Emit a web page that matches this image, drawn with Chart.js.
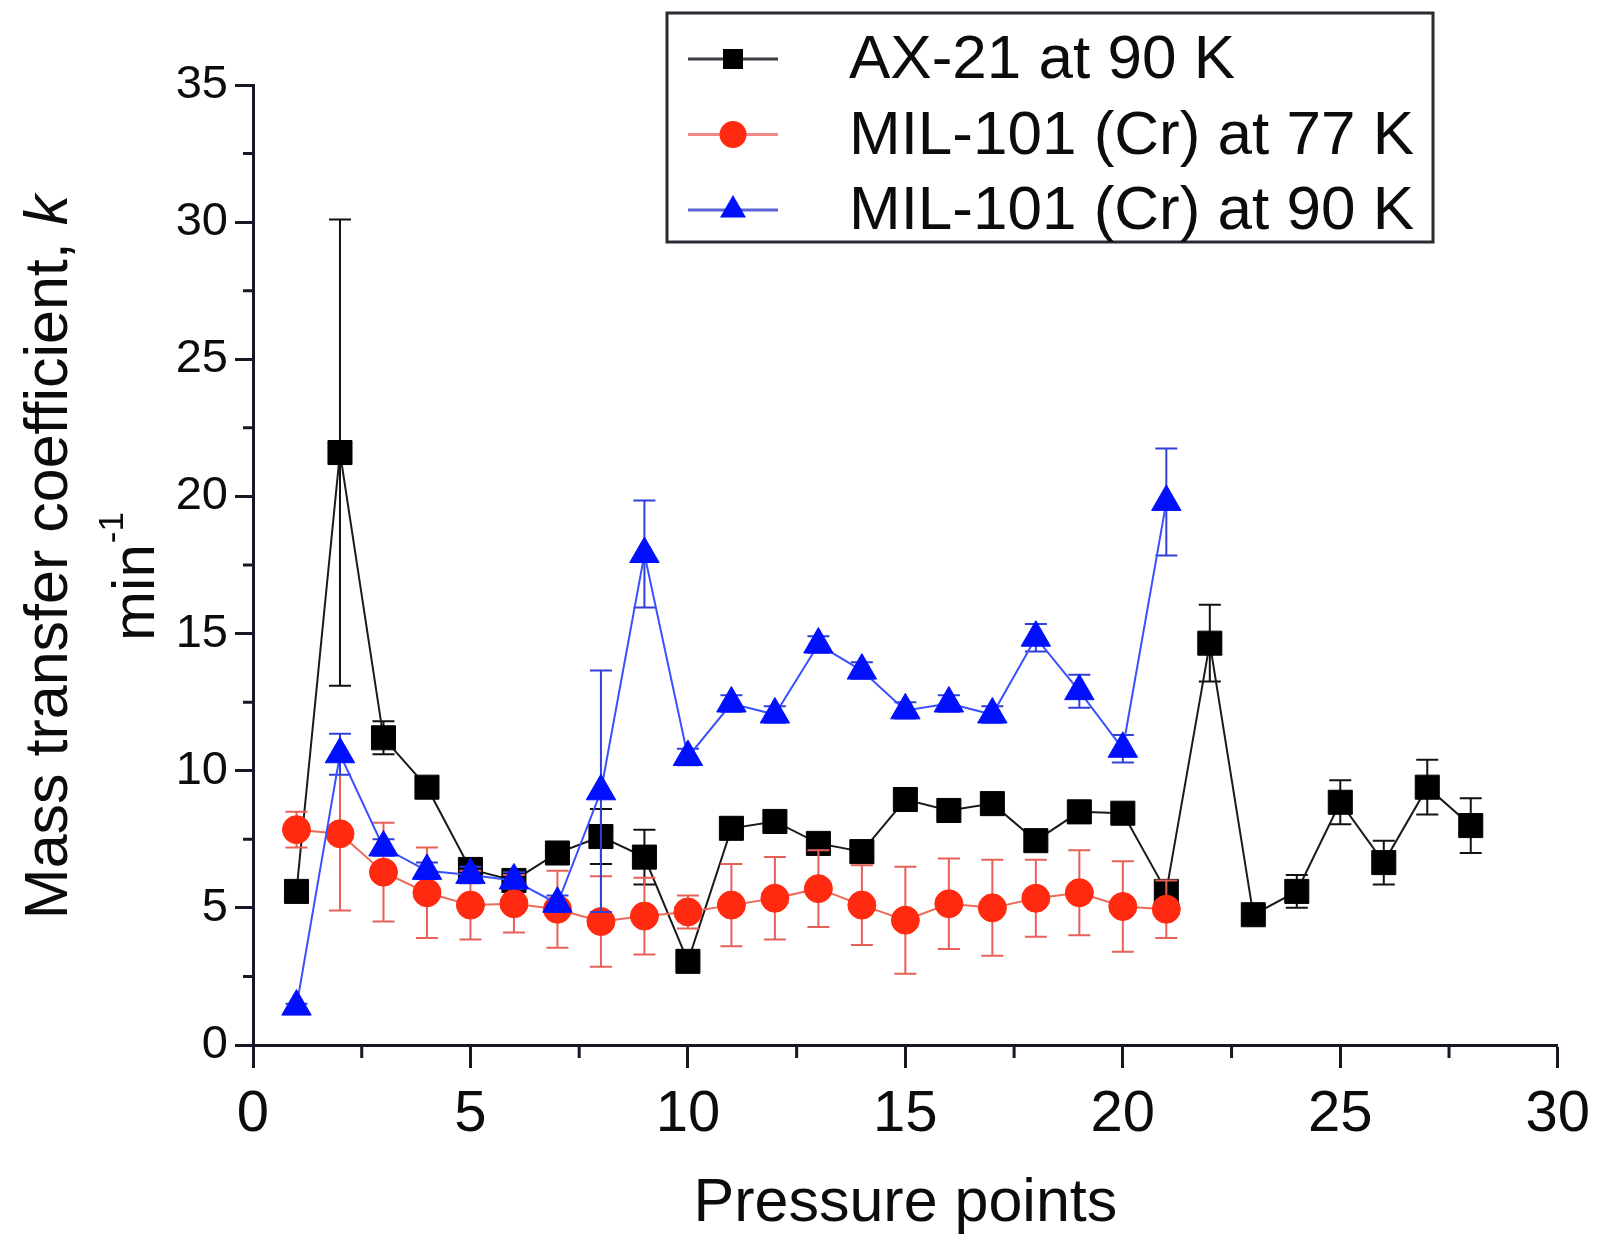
<!DOCTYPE html>
<html>
<head>
<meta charset="utf-8">
<title>Mass transfer coefficient</title>
<script src="https://cdn.jsdelivr.net/npm/chart.js@4.4.1/dist/chart.umd.min.js"></script>
<style>
  html, body { margin: 0; padding: 0; background: #fff; }
  canvas { display: block; }
</style>
</head>
<body>
<canvas id="myChart" width="1602" height="1243"></canvas>
<script>
// pressure point index for each sample
const ax21Points = [1, 2, 3, 4, 5, 6, 7, 8, 9, 10, 11, 12, 13, 14, 15, 16, 17, 18, 19, 20, 21, 22, 23, 24, 25, 26, 27, 28];
const milPoints = [1, 2, 3, 4, 5, 6, 7, 8, 9, 10, 11, 12, 13, 14, 15, 16, 17, 18, 19, 20, 21];

// k (min^-1) and its error
const ax21 = [5.6, 21.6, 11.2, 9.4, 6.4, 6.0, 7.0, 7.6, 6.85, 3.05, 7.9, 8.15, 7.35, 7.05, 8.95, 8.55, 8.8, 7.45, 8.5, 8.45, 5.6, 14.65, 4.75, 5.6, 8.85, 6.65, 9.4, 8.0];
const ax21Err = [0.2, 8.5, 0.6, 0.2, 0.3, 0.3, 0.3, 1.0, 1.0, 0, 0.2, 0.2, 0.2, 0.2, 0.2, 0.2, 0.2, 0.2, 0.2, 0.2, 0.3, 1.4, 0, 0.6, 0.8, 0.8, 1.0, 1.0];

const mil77 = [7.85, 7.7, 6.3, 5.55, 5.1, 5.15, 4.95, 4.5, 4.7, 4.85, 5.1, 5.35, 5.7, 5.1, 4.55, 5.15, 5.0, 5.35, 5.55, 5.05, 4.95];
const mil77Err = [0.65, 2.8, 1.8, 1.65, 1.25, 1.05, 1.4, 1.65, 1.4, 0.6, 1.5, 1.5, 1.4, 1.45, 1.95, 1.65, 1.75, 1.4, 1.55, 1.65, 1.05];

const mil90 = [1.4, 10.6, 7.2, 6.35, 6.2, 6.0, 5.15, 9.25, 17.9, 10.5, 12.45, 12.05, 14.6, 13.65, 12.2, 12.45, 12.05, 14.85, 12.9, 10.8, 19.8];
const mil90Err = [0.1, 0.75, 0.3, 0.3, 0.3, 0.3, 0.3, 4.4, 1.95, 0.3, 0.3, 0.3, 0.3, 0.3, 0.3, 0.3, 0.3, 0.5, 0.6, 0.5, 1.95];

const seriesNames = ["AX-21 at 90 K", "MIL-101 (Cr) at 77 K", "MIL-101 (Cr) at 90 K"];

const xTicks = { min: 0, max: 30, step: 5 };
const yTicks = { min: 0, max: 35, step: 5 };

const FONT = '"Liberation Sans", Arial, Helvetica, sans-serif';
const AXIS = "#1c1526";
const TEXT = "#0c0c0c";

const toPoints = (xs, ys) => ys.map((v, i) => ({ x: xs[i], y: v }));

// vertical error bars with caps, painted right before each dataset
const errorBars = {
  id: "errorBars",
  beforeDatasetDraw(chart, args) {
    const ds = chart.data.datasets[args.index];
    if (!ds.errors) return;
    const { ctx, scales: { x, y } } = chart;
    ctx.save();
    ctx.strokeStyle = ds.errorColor;
    ctx.lineWidth = 2;
    ds.data.forEach((p, i) => {
      const e = ds.errors[i];
      if (!e) return;
      const px = x.getPixelForValue(p.x);
      const top = y.getPixelForValue(p.y + e);
      const bot = y.getPixelForValue(p.y - e);
      ctx.beginPath();
      ctx.moveTo(px, top);
      ctx.lineTo(px, bot);
      ctx.moveTo(px - 11, top);
      ctx.lineTo(px + 11, top);
      ctx.moveTo(px - 11, bot);
      ctx.lineTo(px + 11, bot);
      ctx.stroke();
    });
    ctx.restore();
  },
};

// short unlabeled ticks halfway between the major ones
const minorTicks = {
  id: "minorTicks",
  afterDraw(chart) {
    const { ctx, scales: { x, y } } = chart;
    ctx.save();
    ctx.strokeStyle = AXIS;
    ctx.lineWidth = 3;
    ctx.beginPath();
    for (let v = xTicks.min + xTicks.step / 2; v < xTicks.max; v += xTicks.step) {
      const px = x.getPixelForValue(v);
      ctx.moveTo(px, x.top);
      ctx.lineTo(px, x.top + 13);
    }
    for (let v = yTicks.min + yTicks.step / 2; v < yTicks.max; v += yTicks.step) {
      const py = y.getPixelForValue(v);
      ctx.moveTo(y.right, py);
      ctx.lineTo(y.right - 10, py);
    }
    ctx.stroke();
    ctx.restore();
  },
};

// two-line y title: italic k and a superscript on min
const yTitle = {
  id: "yTitle",
  afterDraw(chart) {
    const ctx = chart.ctx;
    ctx.save();
    ctx.fillStyle = TEXT;
    ctx.textBaseline = "alphabetic";

    ctx.translate(67, 557);
    ctx.rotate(-Math.PI / 2);
    const head = "Mass transfer coefficient, ";
    ctx.font = `61px ${FONT}`;
    const wHead = ctx.measureText(head).width;
    ctx.font = `italic 61px ${FONT}`;
    const wK = ctx.measureText("k").width;
    let x0 = -(wHead + wK) / 2;
    ctx.font = `61px ${FONT}`;
    ctx.fillText(head, x0, 0);
    ctx.font = `italic 61px ${FONT}`;
    ctx.fillText("k", x0 + wHead, 0);

    // second line sits 87px further right on the page
    ctx.font = `60px ${FONT}`;
    const wMin = ctx.measureText("min").width;
    ctx.font = `35px ${FONT}`;
    const wSup = ctx.measureText("-1").width;
    x0 = -(wMin + wSup) / 2 - 20;
    ctx.font = `60px ${FONT}`;
    ctx.fillText("min", x0, 87);
    ctx.font = `35px ${FONT}`;
    ctx.fillText("-1", x0 + wMin + 1, 87 - 31);
    ctx.restore();
  },
};

// boxed legend at the top right
const boxLegend = {
  id: "boxLegend",
  afterDraw(chart) {
    const ctx = chart.ctx;
    ctx.save();
    ctx.fillStyle = "#fff";
    ctx.fillRect(667, 13, 766, 229);
    ctx.strokeStyle = "#2a2a33";
    ctx.lineWidth = 3;
    ctx.strokeRect(667, 13, 766, 229);

    chart.data.datasets.forEach((ds, i) => {
      const rowY = 59 + i * 75.5;
      ctx.strokeStyle = ds.legendLine;
      ctx.lineWidth = 3;
      ctx.beginPath();
      ctx.moveTo(688, rowY);
      ctx.lineTo(778, rowY);
      ctx.stroke();

      ctx.fillStyle = ds.pointBackgroundColor;
      ctx.strokeStyle = ds.pointBorderColor;
      Chart.helpers.drawPoint(ctx, { pointStyle: ds.pointStyle, radius: 12, borderWidth: 1, rotation: 0 }, 733, rowY);

      ctx.fillStyle = TEXT;
      ctx.font = `62px ${FONT}`;
      ctx.textBaseline = "middle";
      ctx.fillText(ds.label, 849, rowY + 2);
    });
    ctx.restore();
  },
};

const ctx = document.getElementById("myChart");

new Chart(ctx, {
  type: "line",
  data: {
    datasets: [
      {
        label: seriesNames[0],
        data: toPoints(ax21Points, ax21),
        errors: ax21Err,
        errorColor: "#111",
        legendLine: "#3a3a44",
        borderColor: "#1a1a1a",
        borderWidth: 2,
        pointStyle: "rect",
        pointRadius: 17,
        pointBackgroundColor: "#000",
        pointBorderColor: "#000",
        pointBorderWidth: 1,
        order: 3,
      },
      {
        label: seriesNames[1],
        data: toPoints(milPoints, mil77),
        errors: mil77Err,
        errorColor: "#e8605a",
        legendLine: "#f08a86",
        borderColor: "#ee6a5a",
        borderWidth: 2,
        pointStyle: "circle",
        pointRadius: 14,
        pointBackgroundColor: "#ff2a10",
        pointBorderColor: "#ff2a10",
        pointBorderWidth: 1,
        order: 2,
      },
      {
        label: seriesNames[2],
        data: toPoints(milPoints, mil90),
        errors: mil90Err,
        errorColor: "#3040d8",
        legendLine: "#5a64d8",
        borderColor: "#3a50ff",
        borderWidth: 2,
        pointStyle: "triangle",
        pointRadius: 17,
        pointBackgroundColor: "#0010ff",
        pointBorderColor: "#0010ff",
        pointBorderWidth: 1,
        order: 1,
      },
    ],
  },
  options: {
    responsive: false,
    devicePixelRatio: 1,
    animation: false,
    layout: { padding: { top: 85, right: 38, bottom: 0, left: 0 } },
    plugins: {
      legend: { display: false },
      tooltip: { enabled: false },
    },
    scales: {
      x: {
        type: "linear",
        min: xTicks.min,
        max: xTicks.max,
        border: { display: true, color: AXIS, width: 3 },
        grid: { display: true, drawOnChartArea: false, drawTicks: true, tickLength: 23, tickWidth: 3, tickColor: AXIS },
        ticks: { stepSize: xTicks.step, padding: 12, color: TEXT, maxRotation: 0, font: { size: 58, family: FONT } },
        title: { display: true, text: "Pressure points", color: TEXT, font: { size: 61, family: FONT }, padding: { top: 0, bottom: 2 } },
        afterFit(scale) {
          scale.height = 198;
        },
      },
      y: {
        type: "linear",
        min: yTicks.min,
        max: yTicks.max,
        border: { display: true, color: AXIS, width: 3 },
        grid: { display: true, drawOnChartArea: false, drawTicks: true, tickLength: 18, tickWidth: 3, tickColor: AXIS },
        ticks: { stepSize: yTicks.step, padding: 7, color: TEXT, font: { size: 47, family: FONT } },
        afterFit(scale) {
          scale.width = 253;
        },
      },
    },
  },
  plugins: [errorBars, minorTicks, yTitle, boxLegend],
});
</script>
</body>
</html>
